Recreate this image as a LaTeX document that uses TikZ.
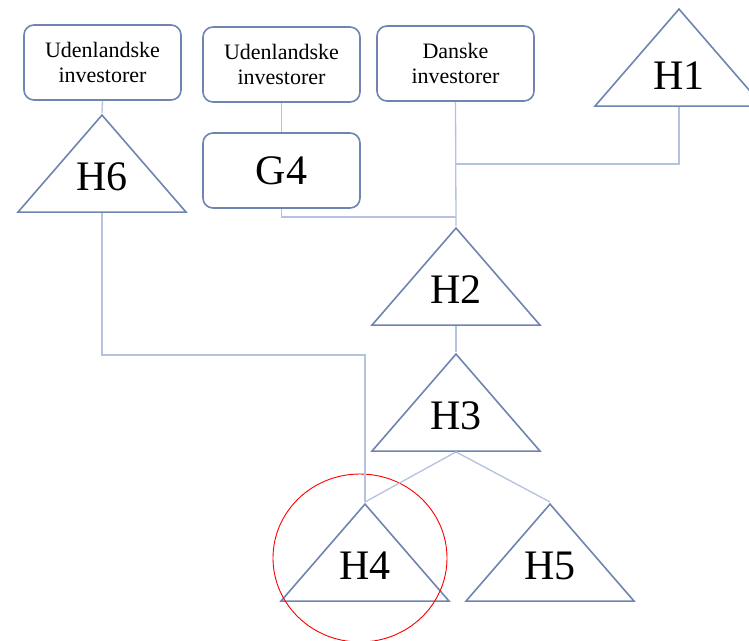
\documentclass[tikz,border=0pt]{standalone}
\usepackage{fontspec}
\setmainfont{Liberation Serif}
\usetikzlibrary{shapes.geometric}
\definecolor{edgeblue}{RGB}{112,132,178}
\definecolor{linkblue}{RGB}{180,194,224}
\begin{document}
\begin{tikzpicture}[x=1pt,y=-1pt,
  owner/.style={draw=edgeblue, line width=1.6pt, rounded corners=10pt,
    minimum width=157pt, minimum height=75pt, inner sep=0pt, align=center,
    font=\fontsize{22}{25}\selectfont},
  company/.style={draw=edgeblue, line width=1.6pt, isosceles triangle,
    isosceles triangle stretches, shape border rotate=90, anchor=apex,
    minimum width=168pt, minimum height=97pt, inner xsep=0pt, inner ysep=-8pt,
    text height=28pt, text depth=12pt,
    font=\fontsize{42}{44}\selectfont},
  link/.style={draw=linkblue, line width=1.3pt}]
  \useasboundingbox[fill=white] (0,0) rectangle (749,640);
  % investors and holding companies
  \node[owner] (U1) at (102.5,62.5) {Udenlandske\\investorer};
  \node[owner] (U2) at (281.5,64.5) {Udenlandske\\investorer};
  \node[owner] (DK) at (455.5,63.5) {Danske\\investorer};
  \node[owner, font=\fontsize{42}{44}\selectfont] (G4) at (281.5,170.5) {G4};
  \node[company, text depth=2pt, inner ysep=0pt] (H1) at (679,7) {H1};
  \node[company] (H6) at (102,113) {H6};
  \node[company] (H2) at (456,226) {H2};
  \node[company] (H3) at (456,352) {H3};
  \node[company] (H4) at (365,502) {H4};
  \node[company] (H5) at (550,502) {H5};
  \node[draw=red, line width=0.9pt, ellipse, minimum width=174pt,
    minimum height=168pt] (mark) at (360,558) {};
  % ownership lines
  \coordinate (j1) at (456,164);
  \coordinate (j2) at (456,217);
  \coordinate (j3) at (365,355);
  \draw[link] (U1.south) -- (H6.apex);
  \draw[link] (U2.south) -- (G4.north);
  \draw[link] (DK.south) -- (H2.apex);
  \draw[link] (H1.south) |- (j1);
  \draw[link] (G4.south) |- (j2);
  \draw[link] (H2.south) -- (H3.apex);
  \draw[link] (H3.south) -- (H4.apex);
  \draw[link] (H3.south) -- (H5.apex);
  \draw[link] (H6.south) |- (j3) -- (H4.apex);
\end{tikzpicture}
\end{document}
